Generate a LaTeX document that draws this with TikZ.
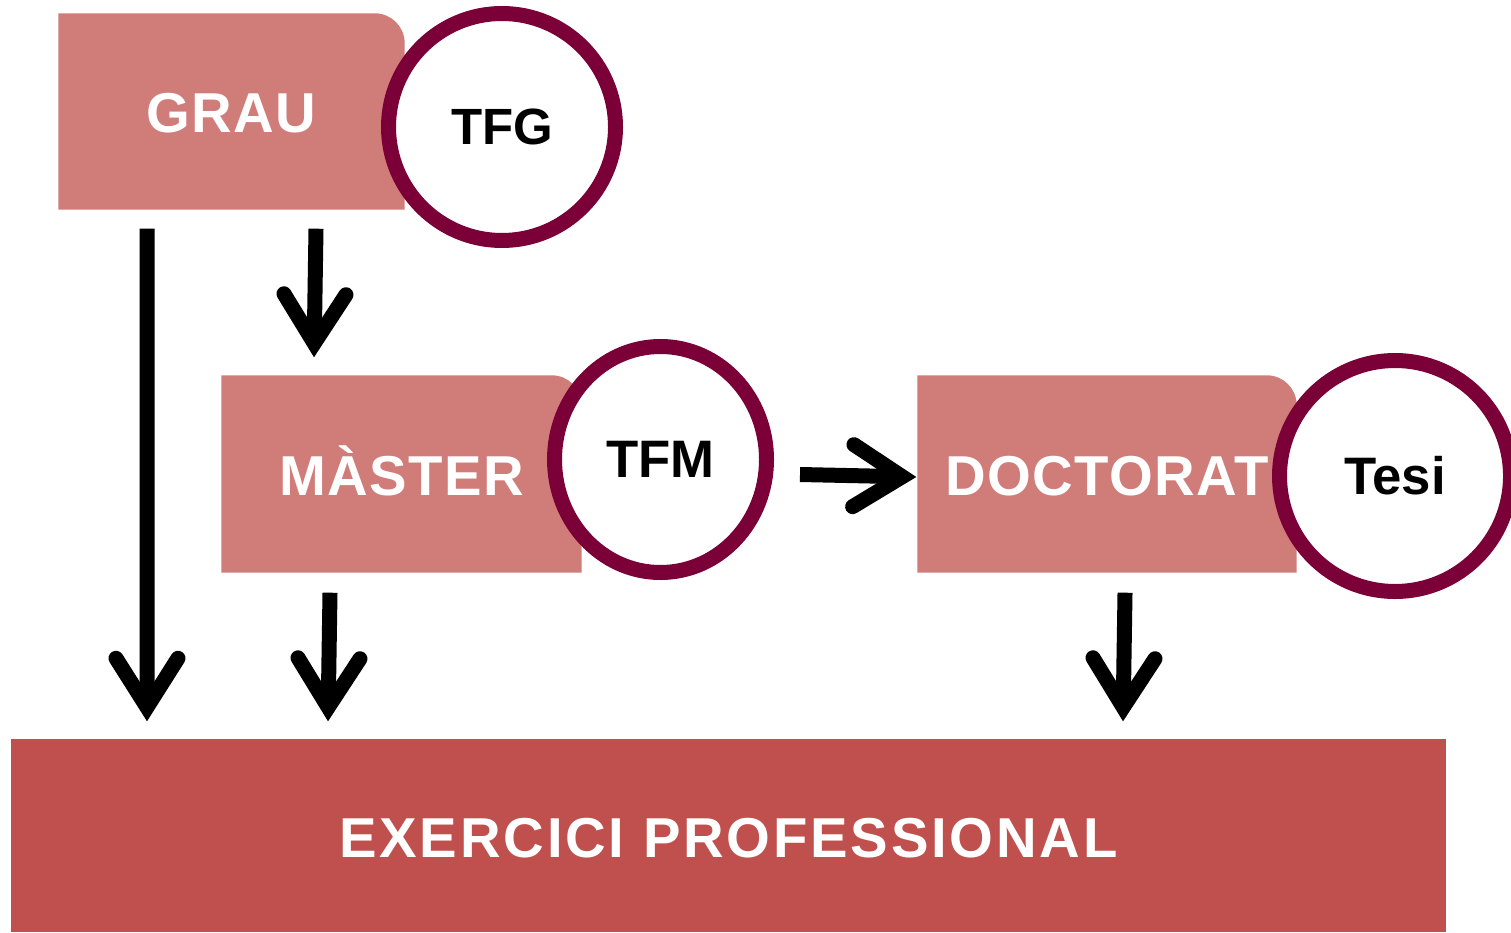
\documentclass[tikz,border=0pt]{standalone}
\usepackage{fontspec}
\setmainfont{Liberation Sans}
\newfontfamily\widefont{Liberation Sans}[LetterSpace=5]
\newfontfamily\labelfont{Liberation Sans}[LetterSpace=2.5]
\usepackage{xcolor}
\usepackage{tikz}
\usetikzlibrary{arrows.meta,backgrounds,positioning,shapes.geometric}
\definecolor{rosa}{HTML}{D07C79}
\definecolor{vermell}{HTML}{C0504D}
\definecolor{granat}{HTML}{7B0037}
\tikzset{
	thick,
	>={Straight Barb[length=4.9mm,width=6.2mm,line cap=round,line join=miter]},
	estudi/.style = {
			rectangle,
			inner sep = 0pt,
			text height = 4.3mm,
			text depth = 0pt,
			font = \labelfont\fontsize{16}{19}\selectfont\bfseries,
			text = white,
		},
	treball/.style = {
			circle,
			draw = granat,
			fill = white,
			line width = 1.5mm,
			inner sep = 0pt,
			minimum size = 2.27cm,
			font = \fontsize{14.5}{17}\selectfont\bfseries,
		},
	fletxa/.style = {->, line width=1.5mm, draw=black},
}

\begin{document}
\begin{tikzpicture}
	\useasboundingbox (0,0) rectangle (15.11,9.32);
	% nivells
	\node[estudi, minimum width=3.45cm, minimum height=1.95cm] (grau) at (2.315,8.205) {GRAU\hspace{1mm}};
	\node[estudi, minimum width=3.59cm, minimum height=1.96cm] (master) at (4.015,4.58) {MÀSTER\hspace{1mm}};
	\node[estudi, minimum width=3.78cm, minimum height=1.96cm] (doctorat) at (11.07,4.58) {DOCTORAT\hspace{1mm}};
	\node[estudi, fill=vermell, minimum width=14.35cm, minimum height=1.93cm] (exercici) at (7.285,0.965)
		{\widefont\fontsize{16}{19}\selectfont\bfseries EXERCICI PROFESSIONAL};
	\begin{scope}[on background layer]
		\foreach \n in {grau,master,doctorat}
			\fill[rosa] (\n.south west) -- (\n.south east) -- ([yshift=-3mm]\n.north east)
				arc[start angle=0, end angle=90, radius=3mm] -- (\n.north west) -- cycle;
	\end{scope}
	% treballs
	\node[treball] (tfg) at (5.02,8.05) {TFG};
	\node[treball, ellipse, minimum width=2.12cm, minimum height=2.26cm,
		font=\fontsize{15}{18}\selectfont\bfseries] (tfm) at (6.605,4.725) {TFM};
	\node[treball, minimum size=2.31cm, font=\fontsize{15}{18}\selectfont\bfseries] (tesi) at (13.95,4.56) {Tesi};
	% fletxes
	\draw[fletxa] ([xshift=-8.45mm,yshift=-1.9mm]grau.south) -- ([xshift=-58.15mm,yshift=1.7mm]exercici.north);
	\draw[fletxa] ([xshift=8.45mm,yshift=-1.9mm]grau.south) -- ([xshift=-8.75mm,yshift=1.8mm]master.north);
	\draw[fletxa] ([xshift=-7.15mm,yshift=-2mm]master.south) -- ([xshift=-40.05mm,yshift=1.7mm]exercici.north);
	\draw[fletxa] ([xshift=2.6mm,yshift=-1.5mm]tfm.east) -- ([xshift=-0.1mm,yshift=-0.3mm]doctorat.west);
	\draw[fletxa] ([xshift=1.8mm,yshift=-2mm]doctorat.south) -- ([xshift=39.45mm,yshift=1.7mm]exercici.north);
\end{tikzpicture}
\end{document}
